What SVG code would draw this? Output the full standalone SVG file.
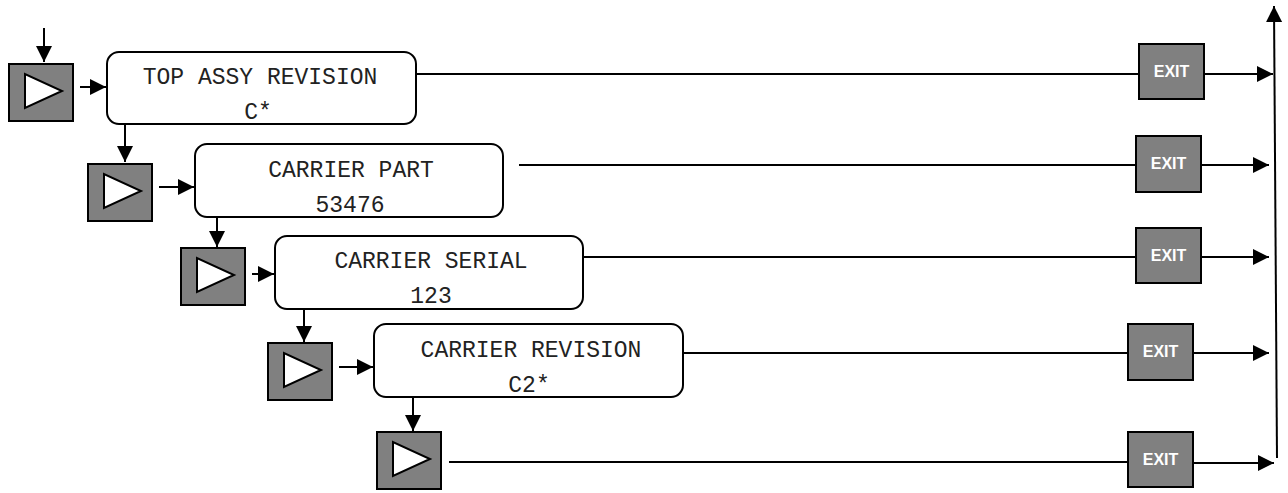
<svg xmlns="http://www.w3.org/2000/svg" width="1288" height="493" viewBox="0 0 1288 493">
<defs>
<marker id="ah" markerUnits="userSpaceOnUse" markerWidth="17" markerHeight="17" refX="16" refY="8.5" orient="auto" overflow="visible">
<path d="M0,0.5 L16,8.5 L0,16.5 z" fill="#000"/>
</marker>
<g id="play">
<rect x="0" y="0" width="64" height="57" fill="#808080" stroke="#000" stroke-width="2"/>
<polygon points="16,10 16,44 53,27" fill="#fff" stroke="#000" stroke-width="2"/>
</g>
</defs>
<style>
.box{fill:#fff;stroke:#000;stroke-width:2}
.exit{fill:#808080;stroke:#000;stroke-width:2}
.mono{font-family:"Courier New","Liberation Mono",monospace;font-size:23px;fill:#222;text-anchor:middle}
.ex{font-family:"Liberation Sans",Arial,sans-serif;font-weight:bold;font-size:16px;fill:#fff;text-anchor:middle}
.ln{stroke:#000;stroke-width:2;fill:none}
.arr{stroke:#000;stroke-width:2;fill:none;marker-end:url(#ah)}
</style>
<rect width="1288" height="493" fill="#fff"/>

<g id="play1"><use href="#play" x="9" y="64"/></g>
<g id="play2"><use href="#play" x="88" y="164"/></g>
<g id="play3"><use href="#play" x="181" y="248"/></g>
<g id="play4"><use href="#play" x="268" y="343"/></g>
<g id="play5"><use href="#play" x="377" y="432"/></g>

<g id="node1">
<rect class="box" x="107" y="52" width="309" height="72" rx="12"/>
<text class="mono" x="260" y="84">TOP ASSY REVISION</text>
<text class="mono" x="258" y="119">C*</text>
</g>
<g id="node2">
<rect class="box" x="195" y="144" width="308" height="73" rx="12"/>
<text class="mono" x="351" y="177">CARRIER PART</text>
<text class="mono" x="350" y="212">53476</text>
</g>
<g id="node3">
<rect class="box" x="275" y="236" width="308" height="73" rx="12"/>
<text class="mono" x="431" y="268">CARRIER SERIAL</text>
<text class="mono" x="431" y="303">123</text>
</g>
<g id="node4">
<rect class="box" x="374" y="324" width="309" height="73" rx="12"/>
<text class="mono" x="531" y="357">CARRIER REVISION</text>
<text class="mono" x="529" y="392">C2*</text>
</g>

<g id="exit1"><rect class="exit" x="1139" y="44" width="65" height="55"/><text class="ex" x="1171.5" y="77">EXIT</text></g>
<g id="exit2"><rect class="exit" x="1136" y="136" width="65" height="56"/><text class="ex" x="1168.5" y="169">EXIT</text></g>
<g id="exit3"><rect class="exit" x="1136" y="228" width="65" height="55"/><text class="ex" x="1168.5" y="261">EXIT</text></g>
<g id="exit4"><rect class="exit" x="1128" y="324" width="65" height="56"/><text class="ex" x="1160.5" y="357">EXIT</text></g>
<g id="exit5"><rect class="exit" x="1128" y="432" width="65" height="55"/><text class="ex" x="1160.5" y="465">EXIT</text></g>

<g id="connectors">
<line class="arr" x1="44" y1="28" x2="44" y2="62"/>
<line class="arr" x1="80" y1="87" x2="106" y2="87"/>
<line class="arr" x1="125" y1="125" x2="125" y2="162"/>
<line class="arr" x1="159" y1="187" x2="194" y2="187"/>
<line class="arr" x1="217" y1="217" x2="217" y2="247"/>
<line class="arr" x1="252" y1="274" x2="274" y2="274"/>
<line class="arr" x1="304" y1="309" x2="304" y2="342"/>
<line class="arr" x1="339" y1="367" x2="373" y2="367"/>
<line class="arr" x1="413" y1="397" x2="413" y2="431"/>

<line class="ln" x1="416" y1="74" x2="1139" y2="74"/>
<line class="ln" x1="519" y1="165" x2="1136" y2="165"/>
<line class="ln" x1="583" y1="257" x2="1136" y2="257"/>
<line class="ln" x1="683" y1="353" x2="1128" y2="353"/>
<line class="ln" x1="449" y1="462" x2="1128" y2="462"/>

<line class="arr" x1="1204" y1="74" x2="1273" y2="74"/>
<line class="arr" x1="1201" y1="165" x2="1269" y2="165"/>
<line class="arr" x1="1201" y1="257" x2="1269" y2="257"/>
<line class="arr" x1="1193" y1="353" x2="1269" y2="353"/>
<line class="arr" x1="1193" y1="463" x2="1274" y2="463"/>

<line class="arr" x1="1277" y1="458" x2="1274" y2="6"/>
</g>
</svg>
